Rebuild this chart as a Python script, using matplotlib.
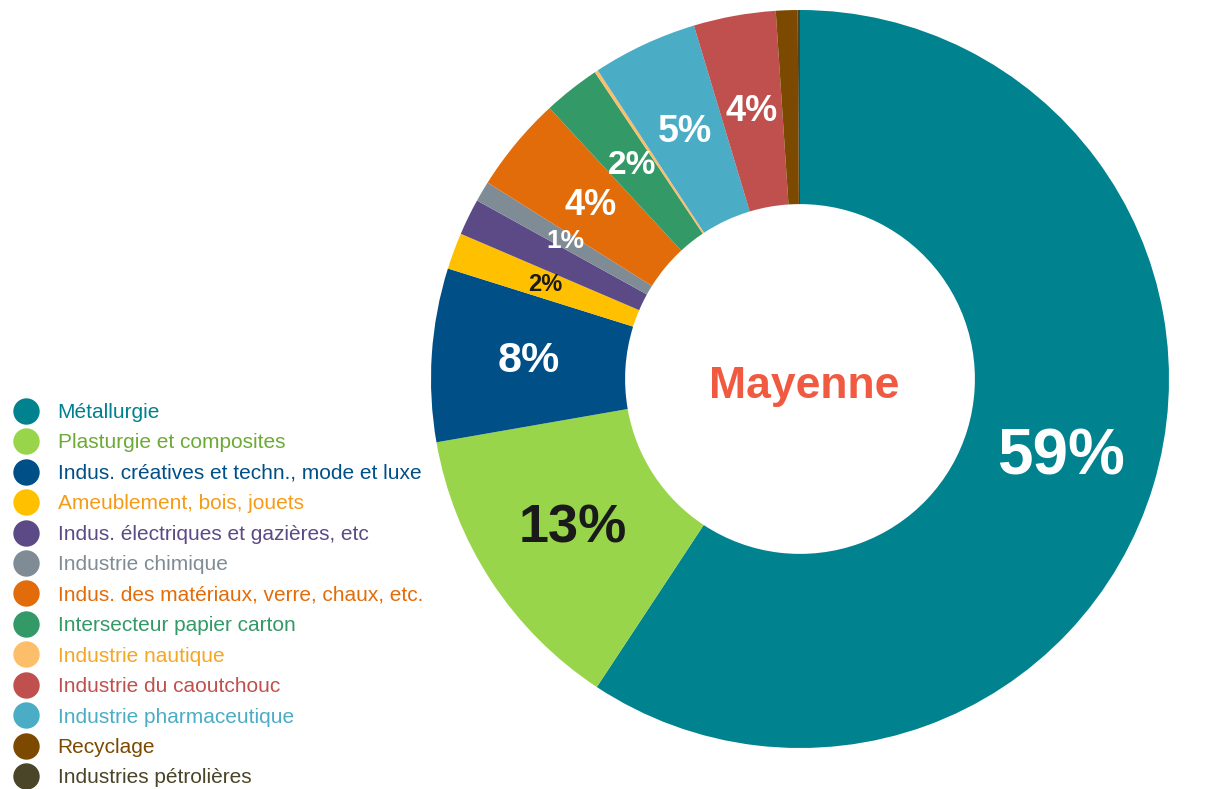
import matplotlib
matplotlib.use('Agg')
import matplotlib.pyplot as plt
from matplotlib.lines import Line2D
import numpy as np

plt.rcParams['font.family'] = ['Liberation Sans', 'DejaVu Sans']

# slices, in drawing order (clockwise from 12 o'clock)
sectors = ['Métallurgie', 'Plasturgie et composites', 'Indus. créatives et techn., mode et luxe',
           'Ameublement, bois, jouets', 'Indus. électriques et gazières, etc', 'Industrie chimique',
           'Indus. des matériaux, verre, chaux, etc.', 'Intersecteur papier carton', 'Industrie nautique',
           'Industrie pharmaceutique', 'Industrie du caoutchouc', 'Recyclage', 'Industries pétrolières']
shares = [59.4, 13.0, 7.6, 1.6, 1.6, 0.9, 4.2, 2.5, 0.15, 4.6, 3.6, 0.95, 0.1]
pct_labels = ['59%', '13%', '8%', '2%', '', '1%', '4%', '2%', '', '5%', '4%', '', '']
colors = ['#00828F', '#98D54A', '#004F86', '#FFC000', '#5B4A86', '#7F8C95', '#E36C0A',
          '#339966', '#FDBE6A', '#4BACC6', '#C0504D', '#7B4A00', '#4A4428']
label_colors = ['white', '#1a1a1a', 'white', '#1a1a1a', 'white', 'white', 'white',
                'white', 'white', 'white', 'white', 'white', 'white']
label_sizes = [46, 39, 31, 17, 17, 19, 26, 24, 10, 27, 26, 10, 10]

# legend order
legend_order = ['Métallurgie', 'Plasturgie et composites', 'Indus. créatives et techn., mode et luxe',
                'Ameublement, bois, jouets', 'Indus. électriques et gazières, etc', 'Industrie chimique',
                'Indus. des matériaux, verre, chaux, etc.', 'Intersecteur papier carton', 'Industrie nautique',
                'Industrie du caoutchouc', 'Industrie pharmaceutique', 'Recyclage', 'Industries pétrolières']
text_colors = {'Métallurgie': '#00808F', 'Plasturgie et composites': '#6DAA35',
               'Indus. créatives et techn., mode et luxe': '#004F86',
               'Ameublement, bois, jouets': '#F59B16', 'Indus. électriques et gazières, etc': '#5B4A86',
               'Industrie chimique': '#7F8C95', 'Indus. des matériaux, verre, chaux, etc.': '#E36C0A',
               'Intersecteur papier carton': '#339966', 'Industrie nautique': '#F5A623',
               'Industrie du caoutchouc': '#C0504D', 'Industrie pharmaceutique': '#4BACC6',
               'Recyclage': '#7B4A00', 'Industries pétrolières': '#4A4428'}

fig = plt.figure(figsize=(12.22, 7.89), dpi=100)
ax = fig.add_axes([431 / 1222, 41 / 789, 738 / 1222, 738 / 789])

ring = 0.526
wedges, _ = ax.pie(shares, colors=colors, startangle=90, counterclock=False,
                   wedgeprops=dict(width=ring, linewidth=0))
ax.set_xlim(-1, 1)
ax.set_ylim(-1, 1)
ax.set_aspect('equal')
ax.axis('off')

r_lab = 1 - ring / 2
for w, lab, c, s in zip(wedges, pct_labels, label_colors, label_sizes):
    if not lab:
        continue
    ang = np.deg2rad((w.theta1 + w.theta2) / 2)
    ax.text(r_lab * np.cos(ang), r_lab * np.sin(ang), lab, ha='center', va='center',
            color=c, fontsize=s, fontweight='bold')

ax.text(0.01, -0.02, 'Mayenne', ha='center', va='center', color='#F05A40',
        fontsize=32, fontweight='bold')

handles = []
for name in legend_order:
    col = colors[sectors.index(name)]
    handles.append(Line2D([], [], linestyle='none', marker='o', markersize=19,
                          markerfacecolor=col, markeredgewidth=0))
leg = fig.legend(handles, legend_order, loc='upper left', bbox_to_anchor=(16 / 1222, 1 - 403 / 789),
                 frameon=False, fontsize=15, handlelength=1.0, handletextpad=1.0,
                 labelspacing=0.55, borderpad=0, borderaxespad=0)
for t, name in zip(leg.get_texts(), legend_order):
    t.set_color(text_colors[name])

fig.savefig('out.png', dpi=100)
